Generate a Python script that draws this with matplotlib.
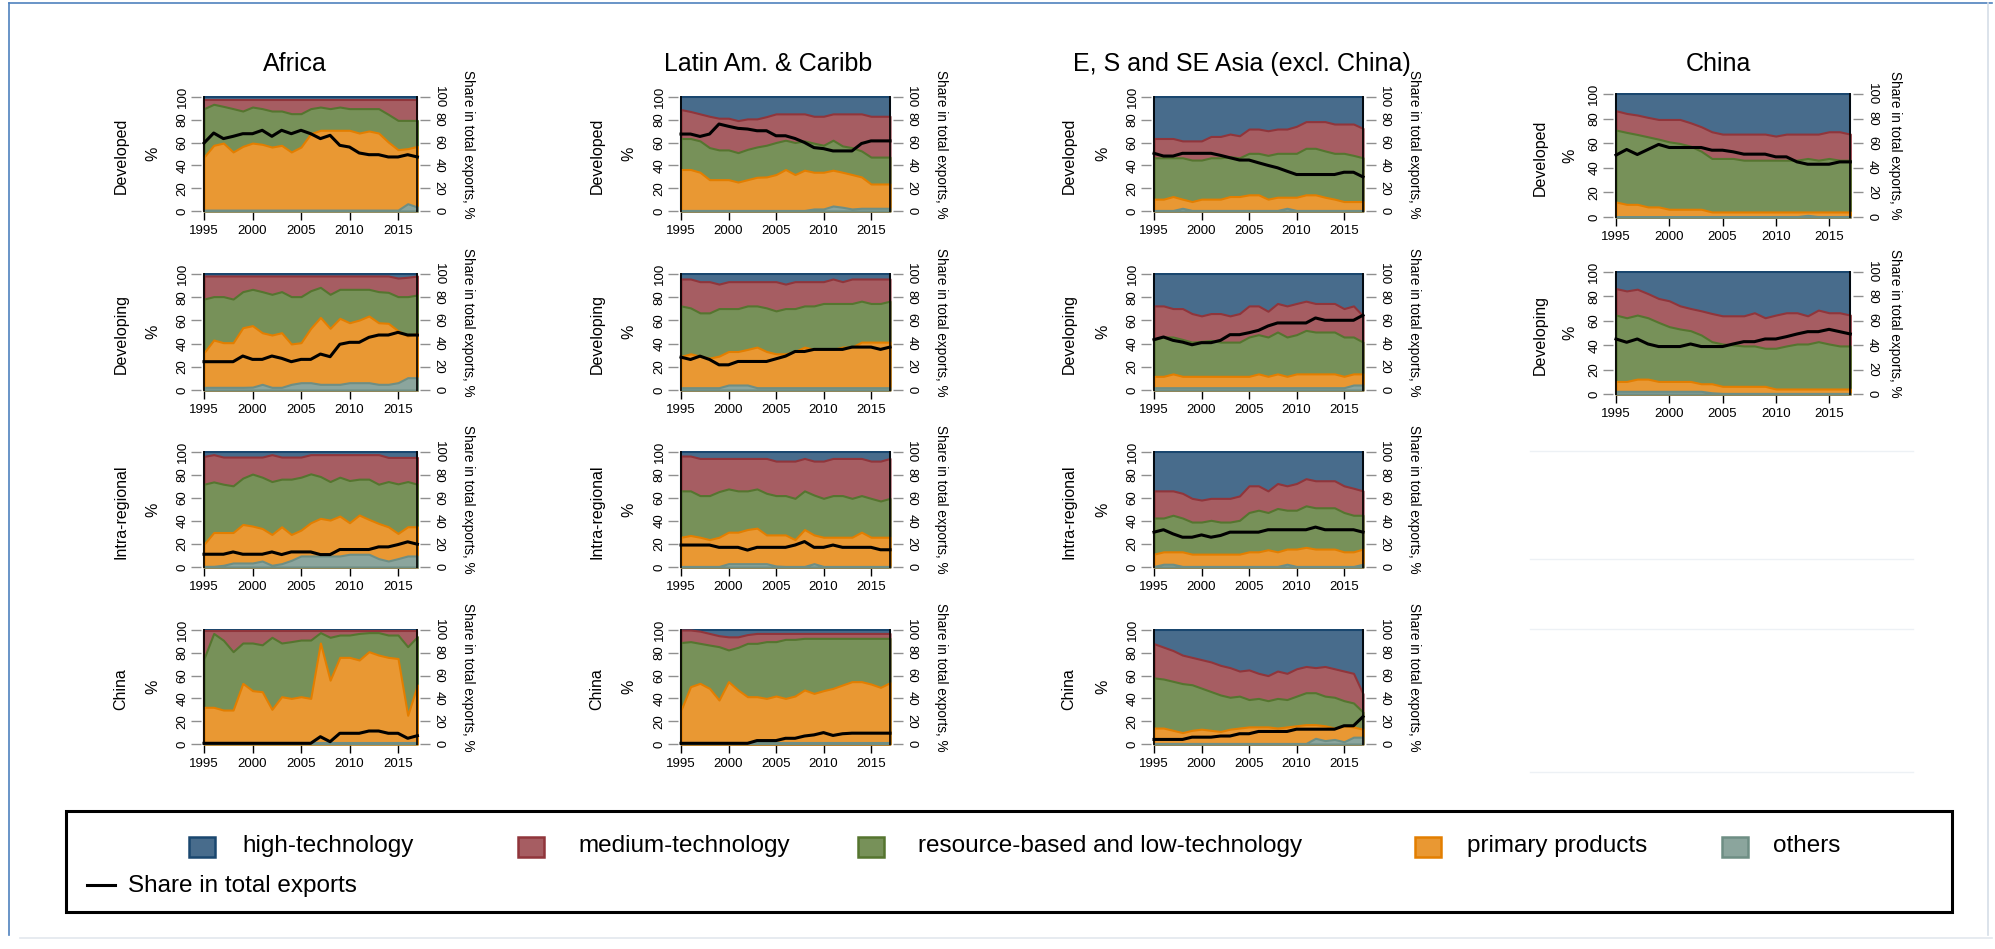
import numpy as np
import matplotlib
matplotlib.use('Agg')
import matplotlib.pyplot as plt
from matplotlib.patches import Rectangle
from matplotlib.lines import Line2D

plt.rcParams['font.family'] = ['Liberation Sans', 'DejaVu Sans']

years = np.arange(1995, 2018)
region_titles = ['Africa', 'Latin Am. & Caribb', 'E, S and SE Asia (excl. China)', 'China']
partner_labels = ['Developed', 'Developing', 'Intra-regional', 'China']
legend_labels = ['high-technology', 'medium-technology', 'resource-based and low-technology',
                 'primary products', 'others']
line_label = 'Share in total exports'
xtick_years = [1995, 2000, 2005, 2010, 2015]
ytick_values = [0, 20, 40, 60, 80, 100]

# Each panel: cumulative upper edge (%) of others, primary, resource-based, medium-tech.
# High-technology fills the rest up to 100.
afr_dev = [
    [0.8, 0.8, 0.8, 0.8, 0.8, 0.8, 0.8, 0.8, 0.8, 0.8, 0.8, 0.8, 0.8, 0.8, 0.8, 0.8, 0.8, 0.8, 0.8, 0.8, 0.8, 6.4, 3.5],
    [47.4, 57.6, 59.6, 51.8, 56.7, 59.6, 58.5, 56.1, 57.6, 51.8, 56.1, 67.8, 70.8, 70.8, 70.8, 70.8, 68.4, 70.2, 68.4, 60.5, 53.8, 54.7, 56.7],
    [89.8, 93.6, 91.8, 89.8, 87.7, 91.2, 89.8, 87.7, 87.7, 85.4, 85.4, 89.8, 91.2, 89.8, 91.2, 89.8, 89.8, 89.8, 89.8, 84.8, 79.5, 79.5, 79.5],
    [97.8, 97.8, 97.8, 97.8, 97.8, 97.8, 97.8, 97.8, 97.8, 97.8, 97.8, 97.8, 97.8, 97.8, 97.8, 97.8, 97.8, 97.8, 97.8, 97.8, 97.8, 97.8, 97.8],
]
afr_dev_share = [59.6, 68.4, 63.5, 65.5, 67.8, 67.8, 70.8, 65.5, 70.8, 67.8, 70.8, 67.8, 63.5, 66.4, 57.6, 56.1, 50.9, 49.4, 49.4, 47.4, 47.4, 49.4, 47.4]

afr_devg = [
    [2.3, 2.3, 2.3, 2.3, 2.3, 2.5, 4.9, 2.3, 2.3, 4.9, 6.3, 6.3, 4.9, 4.9, 4.9, 6.3, 6.3, 6.3, 4.9, 4.9, 6.3, 10.6, 10.6],
    [32.2, 43.1, 40.8, 40.8, 53.7, 55.5, 49.4, 47.4, 49.4, 39.7, 40.8, 53.2, 62.6, 53.2, 61.8, 58.0, 60.3, 63.8, 58.0, 57.5, 51.1, 46.6, 48.9],
    [78.4, 80.5, 80.5, 78.4, 84.8, 86.8, 84.8, 82.5, 84.8, 80.5, 80.5, 85.6, 88.5, 82.5, 86.8, 86.8, 86.8, 86.8, 84.8, 84.2, 80.5, 80.5, 81.9],
    [98.3, 98.3, 98.3, 98.3, 98.3, 98.3, 98.3, 98.3, 98.3, 98.3, 98.3, 98.3, 98.3, 98.3, 98.3, 98.3, 98.3, 98.3, 98.3, 98.3, 96.5, 97.2, 98.3],
]
afr_devg_share = [24.4, 24.4, 24.4, 24.4, 29.3, 26.4, 26.4, 29.3, 27.3, 24.4, 26.4, 26.4, 31.0, 28.7, 39.4, 41.1, 41.1, 45.4, 47.4, 47.4, 49.7, 47.4, 47.4]

afr_intra = [
    [0.6, 0.6, 1.5, 3.5, 3.5, 3.5, 5.2, 1.5, 2.9, 5.8, 9.6, 9.6, 9.6, 9.6, 9.6, 11.1, 11.1, 11.1, 7.3, 5.2, 7.3, 9.6, 9.6],
    [19.8, 30.0, 30.0, 30.0, 37.0, 35.6, 33.5, 28.3, 35.0, 28.3, 32.1, 38.5, 42.3, 40.8, 44.3, 38.5, 45.2, 41.4, 37.9, 35.0, 29.2, 35.0, 35.0],
    [72.0, 74.0, 72.0, 70.6, 77.3, 80.8, 78.1, 74.3, 76.4, 76.4, 78.1, 81.0, 78.7, 74.3, 78.1, 75.2, 76.4, 76.4, 72.0, 74.3, 72.3, 74.3, 72.0],
    [96.2, 97.7, 95.6, 95.6, 95.6, 95.6, 95.6, 97.7, 95.6, 95.6, 95.6, 97.7, 97.7, 97.7, 97.7, 97.7, 97.7, 97.7, 97.7, 95.3, 95.3, 95.3, 95.3],
]
afr_intra_share = [11.1, 11.1, 11.1, 13.1, 11.1, 11.1, 11.1, 13.1, 10.8, 13.1, 13.1, 13.1, 10.8, 10.8, 15.2, 15.2, 15.2, 15.2, 17.5, 17.5, 19.5, 21.9, 19.8]

afr_china = [
    [0.6, 0.6, 0.6, 0.6, 0.6, 0.6, 0.6, 0.6, 0.6, 0.6, 0.6, 0.6, 0.6, 0.6, 0.6, 0.6, 0.6, 0.6, 0.6, 0.6, 0.6, 0.6, 0.6],
    [32.2, 32.2, 29.8, 29.8, 53.2, 46.8, 45.9, 30.4, 41.5, 40.0, 41.5, 40.0, 88.6, 56.0, 76.0, 76.0, 73.7, 81.0, 78.0, 76.0, 75.0, 25.2, 51.8],
    [75.0, 97.0, 91.0, 81.0, 88.6, 88.6, 87.0, 93.6, 88.6, 89.8, 91.2, 91.2, 97.7, 93.6, 95.6, 95.6, 97.0, 97.7, 97.7, 95.6, 95.6, 85.4, 94.2],
    [99.5, 99.5, 99.5, 99.5, 99.5, 99.5, 99.5, 99.5, 99.5, 99.5, 99.5, 99.5, 99.5, 99.5, 99.5, 99.5, 99.5, 99.5, 99.5, 99.5, 99.5, 99.5, 99.5],
]
afr_china_share = [0.6, 0.6, 0.6, 0.6, 0.6, 0.6, 0.6, 0.6, 0.6, 0.6, 0.6, 0.6, 6.4, 2.0, 9.4, 9.4, 9.4, 11.4, 11.4, 9.4, 9.4, 5.0, 7.3]

lat_dev = [
    [0.5, 0.5, 0.5, 0.5, 0.5, 0.5, 0.5, 0.5, 0.5, 0.5, 0.5, 0.5, 0.5, 0.5, 1.8, 1.8, 4.4, 3.3, 1.8, 2.4, 2.4, 2.4, 2.4],
    [36.4, 36.4, 34.0, 27.5, 27.5, 27.5, 25.4, 27.5, 29.6, 29.9, 32.0, 36.4, 32.0, 35.8, 34.0, 34.0, 35.8, 34.0, 32.0, 29.9, 23.7, 23.7, 23.7],
    [63.6, 63.6, 61.5, 55.6, 53.6, 53.6, 51.2, 54.1, 56.2, 57.7, 60.1, 62.1, 60.1, 61.5, 59.5, 57.7, 62.1, 57.1, 55.6, 52.7, 47.3, 47.3, 47.3],
    [89.0, 87.3, 85.2, 83.1, 81.4, 81.4, 79.3, 80.8, 80.8, 82.8, 85.2, 85.2, 85.2, 85.2, 83.1, 83.1, 85.2, 85.2, 85.2, 85.2, 83.1, 83.1, 83.1],
]
lat_dev_share = [67.5, 67.5, 65.4, 67.5, 76.3, 74.3, 72.5, 71.9, 70.4, 70.4, 66.0, 66.0, 63.6, 60.1, 55.6, 54.7, 52.7, 52.7, 52.7, 59.2, 61.5, 61.5, 61.5]

lat_devg = [
    [2.0, 2.0, 2.0, 2.0, 2.0, 4.3, 4.3, 4.3, 2.0, 2.0, 2.0, 2.0, 2.0, 2.0, 2.0, 2.0, 2.0, 2.0, 2.0, 2.0, 2.0, 2.0, 2.0],
    [28.9, 31.2, 29.2, 27.5, 29.2, 33.2, 33.2, 35.0, 37.0, 33.2, 31.2, 31.2, 33.2, 37.0, 35.0, 35.0, 35.0, 37.0, 37.0, 41.3, 41.3, 41.3, 41.3],
    [72.5, 70.8, 66.5, 66.5, 70.2, 70.2, 70.2, 72.5, 72.5, 70.8, 68.2, 70.2, 70.2, 72.5, 72.5, 74.6, 74.6, 74.6, 74.6, 76.6, 74.6, 74.6, 76.6],
    [95.7, 95.7, 93.4, 93.4, 91.3, 93.4, 93.4, 93.4, 93.4, 93.4, 93.4, 91.3, 93.4, 93.4, 93.4, 93.4, 95.7, 93.4, 95.7, 95.7, 95.7, 95.7, 95.7],
]
lat_devg_share = [28.3, 26.3, 29.2, 26.3, 21.7, 21.7, 24.6, 24.6, 24.6, 24.6, 26.9, 29.2, 33.2, 33.2, 35.0, 35.0, 35.0, 35.0, 37.0, 37.0, 37.0, 35.0, 37.0]

lat_intra = [
    [0.5, 0.5, 0.5, 0.5, 0.5, 2.9, 2.9, 2.9, 2.9, 2.9, 0.9, 0.5, 0.5, 0.5, 2.9, 0.5, 0.5, 0.5, 0.5, 0.5, 0.5, 0.5, 0.5],
    [25.9, 27.4, 25.9, 23.8, 25.9, 30.3, 30.3, 32.6, 33.8, 27.9, 27.9, 27.9, 23.8, 32.6, 27.9, 25.9, 25.9, 25.9, 25.9, 30.3, 25.9, 25.9, 25.9],
    [66.2, 66.2, 62.1, 62.1, 65.6, 67.9, 66.2, 66.2, 67.9, 64.1, 62.1, 62.1, 59.7, 66.2, 62.6, 59.7, 62.1, 62.1, 59.7, 62.1, 59.7, 57.4, 59.7],
    [96.5, 96.5, 94.4, 94.4, 94.4, 94.4, 94.4, 94.4, 94.4, 94.4, 92.1, 92.1, 92.1, 94.4, 92.1, 92.1, 94.4, 94.4, 94.4, 94.4, 92.1, 92.1, 94.4],
]
lat_intra_share = [19.1, 19.1, 19.1, 19.1, 17.1, 17.1, 17.1, 14.7, 17.1, 17.1, 17.1, 17.1, 19.1, 22.1, 17.1, 17.1, 19.1, 17.1, 17.1, 17.1, 17.1, 15.0, 15.0]

lat_china = [
    [0.5, 0.5, 0.5, 0.5, 0.5, 0.5, 0.5, 0.5, 0.5, 0.5, 0.5, 0.5, 0.5, 0.5, 0.5, 0.5, 0.5, 0.5, 0.5, 0.5, 0.5, 0.5, 0.5],
    [29.8, 50.3, 53.2, 48.8, 38.6, 54.7, 47.4, 41.5, 41.5, 40.0, 42.1, 40.0, 42.1, 47.4, 44.4, 46.8, 48.8, 51.8, 54.7, 54.7, 52.6, 49.7, 53.8],
    [89.0, 89.8, 88.3, 86.8, 85.4, 82.5, 84.8, 88.3, 88.3, 89.8, 89.8, 91.8, 91.8, 92.7, 92.7, 92.7, 92.7, 92.7, 92.7, 92.7, 92.7, 92.7, 92.7],
    [100.0, 100.0, 99.0, 97.0, 95.0, 94.0, 94.0, 96.0, 97.0, 97.0, 97.0, 97.0, 97.0, 97.0, 97.0, 97.0, 97.0, 97.0, 97.0, 97.0, 97.0, 97.0, 97.0],
]
lat_china_share = [0.6, 0.6, 0.6, 0.6, 0.6, 0.6, 0.6, 0.6, 3.0, 3.0, 3.0, 5.0, 5.0, 7.0, 8.0, 10.0, 7.5, 9.0, 9.5, 9.5, 9.5, 9.5, 9.5]

asia_dev = [
    [0.5, 0.5, 0.5, 2.4, 0.5, 0.5, 0.5, 0.5, 0.5, 0.5, 0.5, 0.5, 0.5, 0.5, 2.4, 0.5, 0.5, 0.5, 0.5, 0.5, 0.5, 0.5, 0.5],
    [10.4, 10.4, 12.7, 10.4, 8.3, 10.4, 10.4, 10.4, 12.7, 12.7, 14.2, 14.2, 10.4, 12.1, 12.1, 12.1, 14.2, 14.2, 12.1, 10.4, 8.3, 8.3, 8.3],
    [46.7, 46.7, 46.7, 46.7, 44.7, 44.7, 46.7, 46.7, 47.6, 46.7, 50.6, 50.6, 48.8, 50.6, 50.6, 50.6, 55.0, 55.0, 52.7, 50.6, 50.6, 48.8, 46.7],
    [63.6, 63.6, 63.6, 61.5, 61.5, 61.5, 65.4, 65.4, 67.5, 66.0, 71.9, 71.9, 70.4, 71.9, 71.9, 74.3, 78.4, 78.4, 78.4, 76.3, 76.3, 76.3, 72.5],
]
asia_dev_share = [50.6, 48.2, 48.2, 50.6, 50.6, 50.6, 50.6, 48.8, 46.7, 44.7, 44.7, 42.3, 40.0, 37.9, 34.9, 32.0, 32.0, 32.0, 32.0, 32.0, 34.0, 34.0, 29.9]

asia_devg = [
    [2.0, 2.0, 2.0, 2.0, 2.0, 2.0, 2.0, 2.0, 2.0, 2.0, 2.0, 2.0, 2.0, 2.0, 2.0, 2.0, 2.0, 2.0, 2.0, 2.0, 2.0, 4.3, 4.3],
    [11.8, 11.8, 13.9, 11.8, 11.8, 11.8, 11.8, 11.8, 11.8, 11.8, 11.8, 13.9, 11.8, 13.9, 11.8, 13.9, 13.9, 13.9, 13.9, 13.9, 11.8, 13.9, 13.9],
    [43.6, 45.7, 45.7, 43.6, 41.3, 41.9, 42.8, 41.3, 41.3, 41.3, 45.7, 47.7, 45.7, 50.0, 45.7, 47.7, 51.4, 50.0, 50.0, 50.0, 45.7, 45.7, 41.3],
    [72.5, 72.5, 70.2, 70.2, 65.9, 63.9, 65.9, 65.9, 63.9, 65.9, 72.5, 72.5, 67.9, 74.6, 72.5, 74.6, 76.6, 74.6, 74.6, 74.6, 70.2, 72.5, 63.9],
]
asia_devg_share = [43.4, 45.7, 42.8, 41.3, 39.0, 40.8, 40.8, 42.8, 47.7, 47.7, 49.4, 51.4, 55.2, 57.8, 57.8, 57.8, 57.8, 62.1, 60.1, 60.1, 60.1, 60.1, 64.5]

asia_intra = [
    [0.5, 2.4, 2.4, 0.5, 0.5, 0.5, 0.5, 0.5, 0.5, 0.5, 0.5, 0.5, 0.5, 0.5, 2.4, 0.5, 0.5, 0.5, 0.5, 0.5, 0.5, 0.5, 2.4],
    [11.2, 13.2, 13.2, 13.2, 11.2, 11.2, 11.2, 11.2, 11.2, 11.2, 13.2, 13.2, 15.0, 13.2, 15.6, 15.6, 17.1, 15.6, 15.6, 15.6, 13.2, 13.2, 15.6],
    [42.6, 42.6, 45.0, 42.6, 39.1, 39.1, 40.6, 39.1, 39.1, 40.6, 47.4, 49.4, 47.4, 50.9, 49.4, 49.4, 53.2, 51.5, 51.5, 51.5, 47.4, 45.0, 45.0],
    [66.2, 66.2, 66.2, 64.1, 59.7, 58.2, 59.7, 59.7, 59.7, 61.8, 70.6, 70.6, 66.2, 72.6, 70.6, 72.6, 76.8, 75.0, 75.0, 75.0, 70.6, 68.5, 66.2],
]
asia_intra_share = [30.3, 32.4, 28.8, 25.9, 25.9, 27.9, 25.9, 27.4, 30.3, 30.3, 30.3, 30.3, 32.4, 32.4, 32.4, 32.4, 32.4, 34.7, 32.4, 32.4, 32.4, 32.4, 30.3]

asia_china = [
    [0.5, 0.5, 0.5, 0.5, 0.5, 0.5, 0.5, 0.5, 0.5, 0.5, 0.5, 0.5, 0.5, 0.5, 0.5, 0.5, 0.5, 5.0, 3.0, 4.0, 2.0, 6.0, 6.0],
    [14, 14, 12, 10, 12, 13, 12, 11, 13, 14, 15, 15, 15, 14, 15, 16, 17, 17, 16, 14, 16, 15, 13],
    [58, 57, 55, 53, 52, 49, 46, 43, 41, 42, 39, 40, 38, 40, 39, 42, 45, 45, 42, 41, 38, 36, 28],
    [88, 85, 82, 78, 76, 74, 72, 69, 67, 64, 65, 62, 60, 64, 62, 66, 68, 67, 68, 66, 64, 62, 44],
]
asia_china_share = [4, 4, 4, 4, 6, 6, 6, 7, 7, 9, 9, 11, 11, 11, 11, 13, 13, 13, 13, 13, 16, 16, 24]

chn_dev = [
    [0.3, 0.3, 0.3, 0.3, 0.3, 0.3, 0.3, 0.3, 0.3, 0.3, 0.3, 0.3, 0.3, 0.3, 0.3, 0.3, 0.3, 0.3, 1.4, 0.3, 0.3, 0.3, 0.3],
    [12.2, 10.3, 10.3, 8.2, 8.2, 6.3, 6.3, 6.3, 6.3, 4.1, 4.1, 4.1, 4.1, 4.1, 4.1, 4.1, 4.1, 4.1, 4.1, 4.1, 4.1, 4.1, 4.1],
    [70.7, 68.8, 67.1, 65.2, 63.3, 61.1, 59.8, 57.6, 53.5, 47.6, 47.6, 47.6, 46.2, 46.2, 46.2, 46.2, 46.2, 46.2, 47.6, 46.2, 47.6, 46.2, 46.2],
    [86.4, 84.2, 82.9, 81.0, 79.3, 79.3, 79.3, 76.6, 73.4, 69.3, 67.4, 67.4, 67.4, 67.4, 67.4, 65.8, 67.4, 67.4, 67.4, 67.4, 69.3, 69.3, 67.4],
]
chn_dev_share = [50.3, 54.9, 50.8, 54.9, 59.0, 56.5, 56.5, 56.5, 56.5, 54.3, 54.3, 53.0, 51.1, 51.1, 51.1, 48.9, 48.9, 44.8, 42.9, 42.9, 42.9, 44.8, 44.8]

chn_devg = [
    [2.2, 2.2, 2.2, 2.2, 2.2, 2.2, 2.2, 2.2, 2.2, 1.0, 0.5, 0.5, 0.5, 0.5, 0.5, 0.5, 0.5, 0.5, 0.5, 0.5, 0.5, 0.5, 0.5],
    [10.3, 10.3, 12.2, 12.2, 10.3, 10.3, 10.3, 10.3, 8.4, 8.4, 6.3, 6.3, 6.3, 6.3, 6.3, 4.1, 4.1, 4.1, 4.1, 4.1, 4.1, 4.1, 4.1],
    [64.7, 62.5, 64.7, 62.5, 58.7, 55.2, 53.3, 51.9, 48.4, 42.9, 41.0, 40.2, 39.4, 39.4, 37.5, 37.5, 39.4, 41.0, 41.0, 42.9, 41.0, 39.4, 39.4],
    [86.4, 84.5, 85.9, 82.3, 78.3, 76.4, 72.3, 70.1, 68.2, 66.0, 64.1, 64.1, 64.1, 66.6, 62.5, 64.7, 66.6, 66.6, 64.1, 68.8, 66.6, 66.6, 64.7],
]
chn_devg_share = [45.1, 42.4, 45.1, 41.0, 38.9, 38.9, 38.9, 41.0, 38.9, 38.9, 38.9, 41.0, 42.9, 42.9, 45.1, 45.1, 47.0, 49.2, 51.1, 51.1, 53.0, 51.1, 49.2]

panels = [
    [(afr_dev, afr_dev_share), (afr_devg, afr_devg_share), (afr_intra, afr_intra_share), (afr_china, afr_china_share)],
    [(lat_dev, lat_dev_share), (lat_devg, lat_devg_share), (lat_intra, lat_intra_share), (lat_china, lat_china_share)],
    [(asia_dev, asia_dev_share), (asia_devg, asia_devg_share), (asia_intra, asia_intra_share), (asia_china, asia_china_share)],
    [(chn_dev, chn_dev_share), (chn_devg, chn_devg_share)],
]

# Stata s2color outlines, fills at 80% intensity: high, medium, resource, primary, others
edge_cols = ['#1A476F', '#90353B', '#55752F', '#E37E00', '#6E8E84']
fill_cols = ['#486C8C', '#A65D62', '#779159', '#E99833', '#8BA59D']

W, H = 1995, 949
fig = plt.figure(figsize=(W / 100, H / 100), dpi=100)


def fx(x):
    return x / W


def fy(y):
    return 1 - y / H


# pixel positions of the 1995 / 2015 ticks and of the 100 / 0 ticks
col_x = [(204, 398), (681, 871), (1154, 1344), (1616, 1829)]
row_y = [[(97, 211), (274, 390), (452, 567), (630, 744)]] * 3 + [[(94, 217), (272, 394)]]
title_x = [295, 768, 1242, 1718]
lab_off = [(83, 51), (84, 52), (85, 51), (76, 46)]

for c, col in enumerate(panels):
    x95, x15 = col_x[c]
    ppy = (x15 - x95) / 20
    fig.text(fx(title_x[c]), fy(64), region_titles[c], fontsize=18, ha='center', va='center')
    for r, (bounds, share) in enumerate(col):
        y100, y0 = row_y[c][r]
        ppu = (y0 - y100) / 100
        left, right = x95 - 0.3 * ppy, x95 + 22.3 * ppy
        top, bottom = y100 - 0.6 * ppu, y0 + 1.2 * ppu
        ax = fig.add_axes([fx(left), fy(bottom), (right - left) / W, (bottom - top) / H])
        ax.set_xlim(1994.7, 2017.3)
        ax.set_ylim(-1.2, 100.6)

        tops = [np.full(len(years), 100.0)] + [np.array(b, dtype=float) for b in bounds[::-1]]
        for k, t in enumerate(tops):
            ax.fill_between(years, 0, t, facecolor=fill_cols[k], edgecolor=edge_cols[k],
                            lw=1.5, zorder=2 + k)
        ax.axvline(1995, color='black', lw=1.2, zorder=8)
        ax.axvline(2017, color='black', lw=1.2, zorder=8)

        for s in ax.spines.values():
            s.set_visible(False)
        ax.set_xticks(xtick_years)
        ax.set_xticklabels([str(v) for v in xtick_years])
        ax.tick_params(axis='x', length=6, width=1, color='black', labelsize=9.5, pad=3)
        ax.set_yticks(ytick_values)
        ax.set_yticklabels([str(v) for v in ytick_values], rotation=90, va='center')
        ax.tick_params(axis='y', length=7, width=1, color='#8f8f8f', labelsize=9.5, pad=2)

        ax2 = ax.twinx()
        ax2.set_ylim(-1.2, 100.6)
        for s in ax2.spines.values():
            s.set_visible(False)
        ax2.set_yticks(ytick_values)
        ax2.set_yticklabels([str(v) for v in ytick_values], rotation=270, va='center')
        ax2.tick_params(axis='y', length=7, width=1, color='#8f8f8f', labelsize=9.5, pad=2)
        ax2.plot(years, share, color='black', lw=2.2, solid_joinstyle='round', zorder=10)

        yc = (y100 + y0) / 2
        fig.text(fx(x95 - lab_off[c][0]), fy(yc + 2), partner_labels[r], rotation=90,
                 fontsize=11.5, ha='center', va='center')
        fig.text(fx(x95 - lab_off[c][1]), fy(yc), '%', rotation=90,
                 fontsize=11.5, ha='center', va='center')
        fig.text(fx(x15 + 70 if c < 3 else x15 + 66), fy(yc - 10), 'Share in total exports, %',
                 rotation=270, fontsize=9.8, ha='center', va='center')

# faint empty frames under the China column
for yy in [451, 559, 629, 772]:
    fig.add_artist(Line2D([fx(1530), fx(1913)], [fy(yy), fy(yy)], color='#EDF1F5', lw=1))

# legend box
fig.add_artist(Rectangle((fx(66), fy(912)), (1952 - 66) / W, (912 - 811) / H,
                         transform=fig.transFigure, fill=False, ec='black', lw=2.2))
patch_x = [189, 518, 858, 1415, 1722]
text_x = [242, 578, 918, 1467, 1773]
for k in range(5):
    fig.add_artist(Rectangle((fx(patch_x[k]), fy(857)), 26 / W, 20 / H, transform=fig.transFigure,
                             facecolor=fill_cols[k], edgecolor=edge_cols[k], lw=1.8))
    fig.text(fx(text_x[k]), fy(846), legend_labels[k], fontsize=17.5, ha='left', va='center')
fig.add_artist(Line2D([fx(87), fx(115)], [fy(885), fy(885)], color='black', lw=2.2))
fig.text(fx(128), fy(886), line_label, fontsize=17.5, ha='left', va='center')

# outer frame
fig.add_artist(Line2D([fx(9), fx(9)], [fy(3), fy(935)], color='#4F81BD', lw=1.2))
fig.add_artist(Line2D([fx(9), fx(1992)], [fy(3), fy(3)], color='#4F81BD', lw=1.2))
fig.add_artist(Line2D([fx(1988), fx(1988)], [fy(3), fy(935)], color='#D5DEE8', lw=1.2))
fig.add_artist(Line2D([fx(20), fx(1992)], [fy(938), fy(938)], color='#E3E8EE', lw=1.2))

fig.savefig('out.png', dpi=100, facecolor='white')
